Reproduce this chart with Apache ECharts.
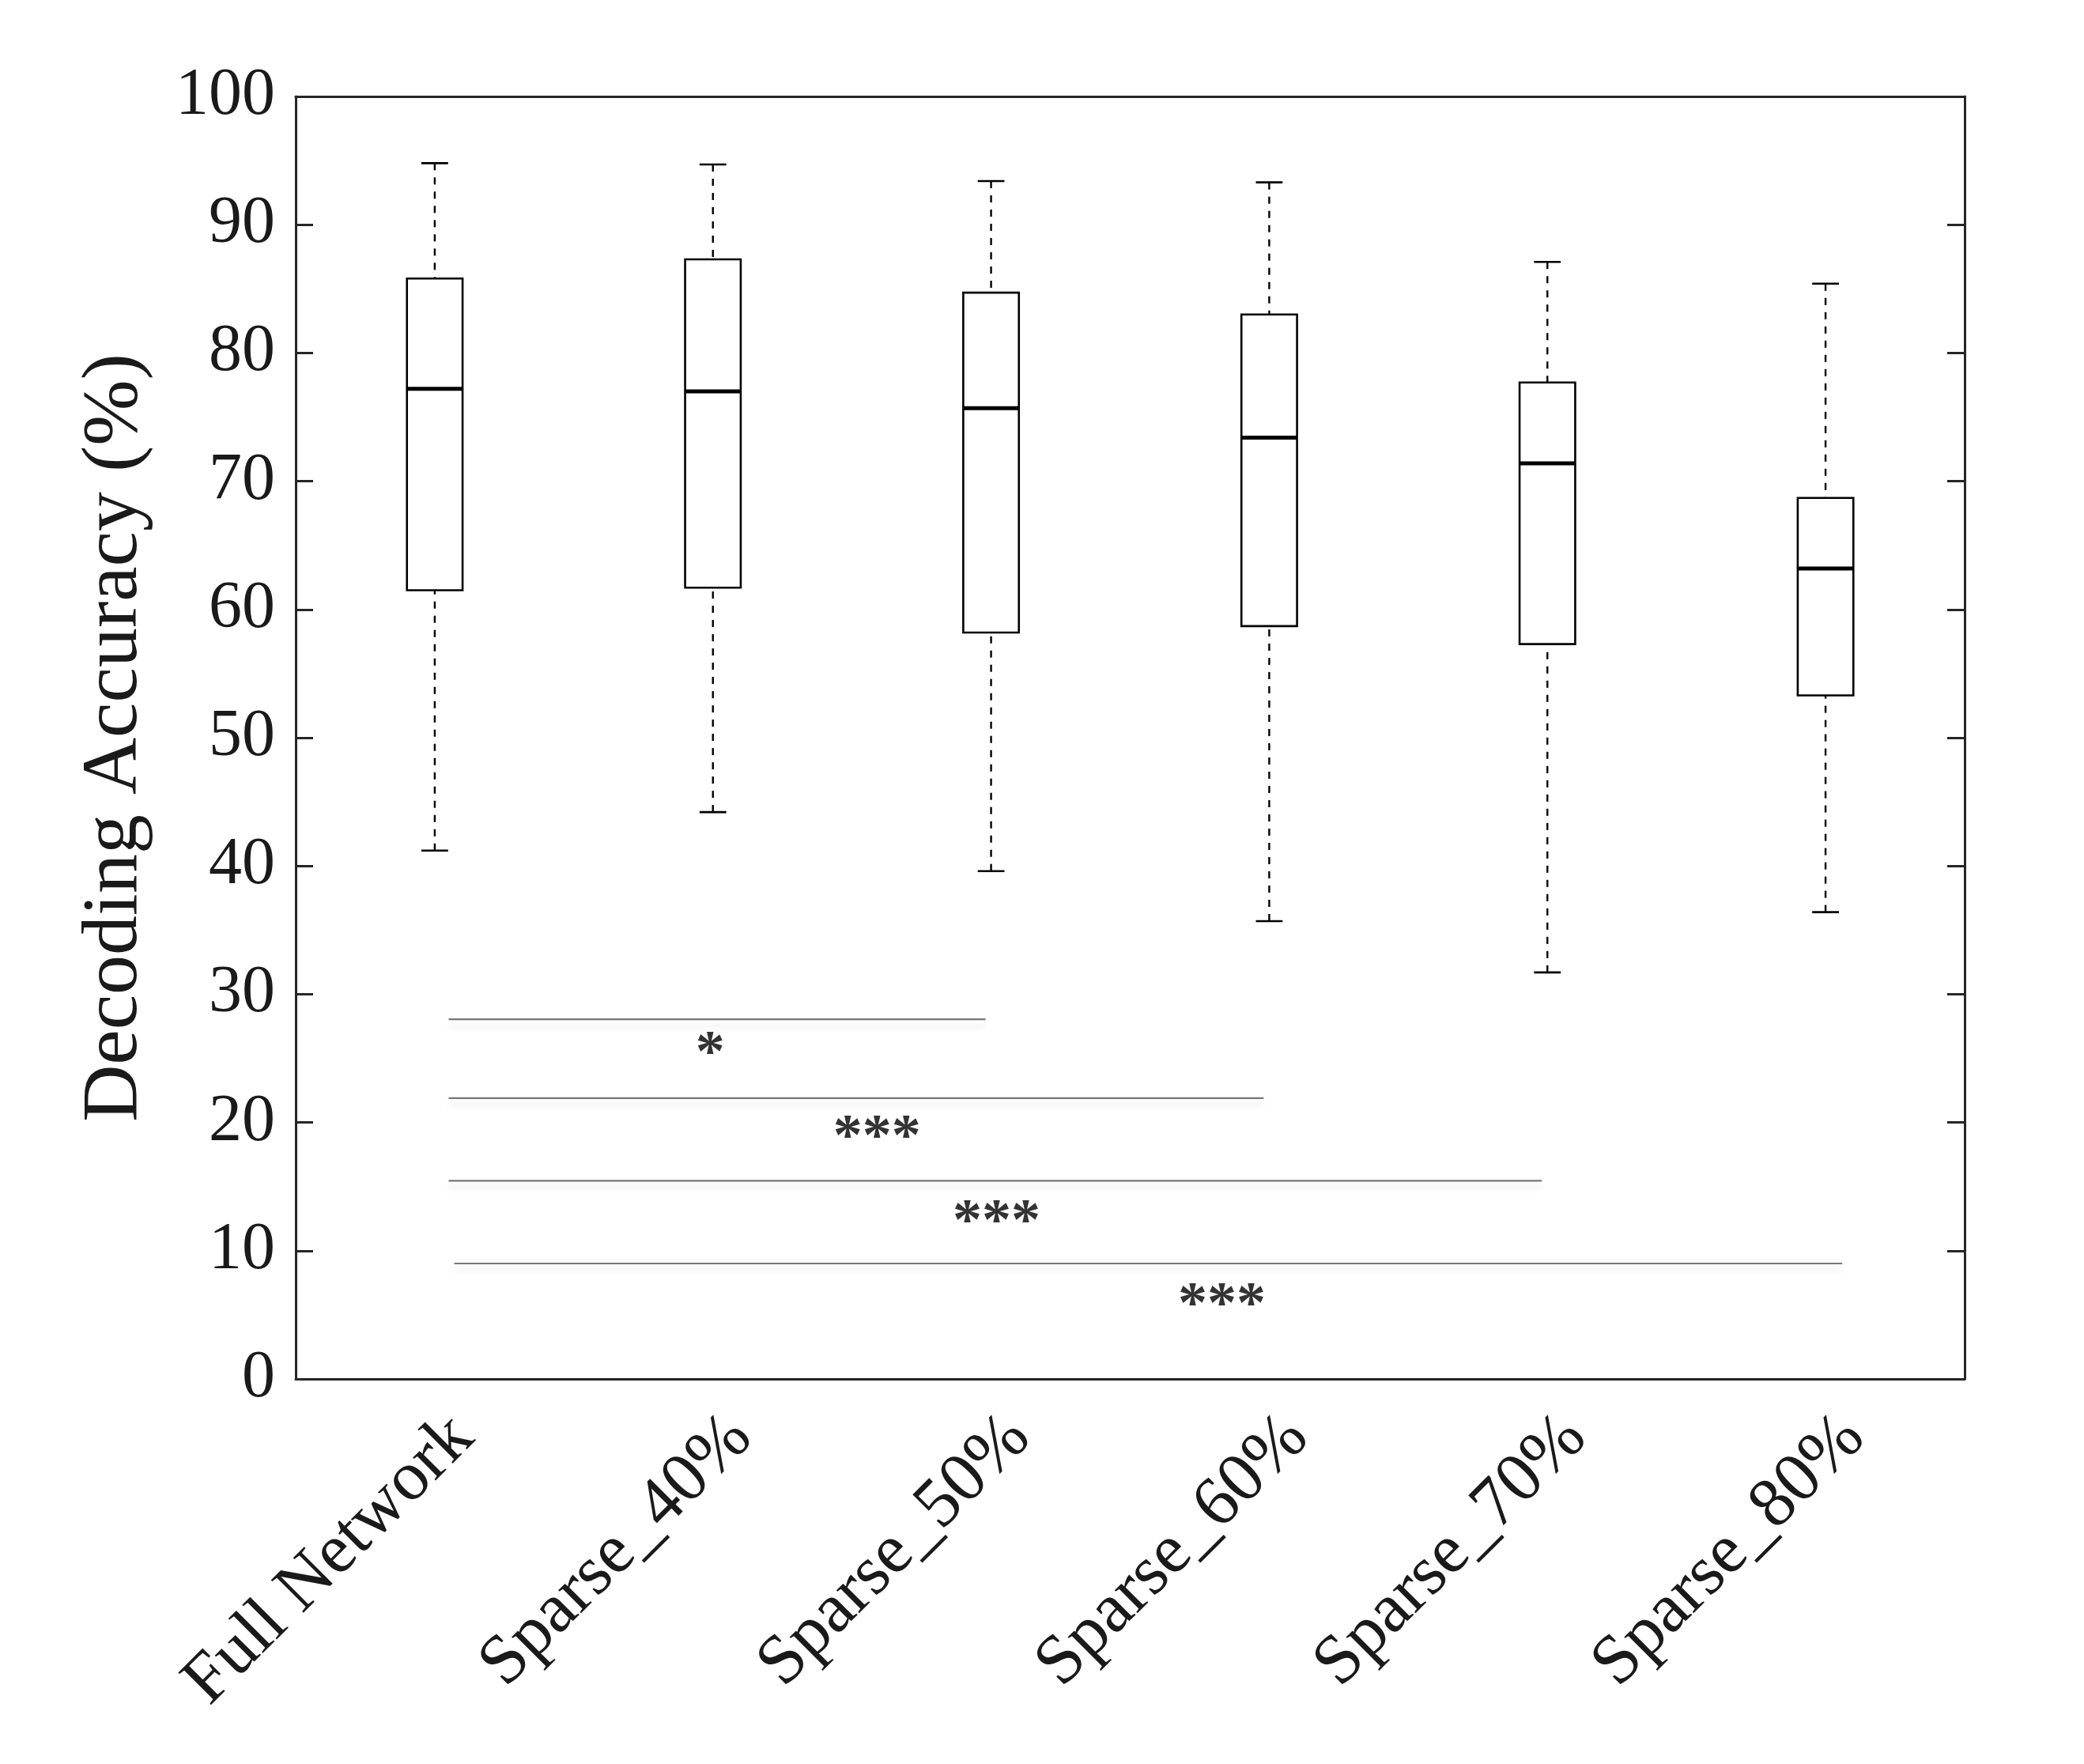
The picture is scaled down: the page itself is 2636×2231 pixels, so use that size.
<!DOCTYPE html>
<html>
<head>
<meta charset="utf-8">
<script src="https://cdn.jsdelivr.net/npm/echarts@6/dist/echarts.min.js"></script>
<style>
  html, body { margin: 0; padding: 0; background: #fff; }
  #chart { width: 2636px; height: 2231px; }
</style>
</head>
<body>
<div id="chart"></div>
<script>
// box stats
const categories = ['Full Network', 'Sparse_40%', 'Sparse_50%', 'Sparse_60%', 'Sparse_70%', 'Sparse_80%'];
const whiskerLow  = [41.2, 44.2, 39.6, 35.7, 31.7, 36.4];
const q1          = [61.5, 61.7, 58.2, 58.7, 57.3, 53.3];
const median      = [77.2, 77.0, 75.7, 73.4, 71.4, 63.2];
const q3          = [85.8, 87.3, 84.7, 83.0, 77.7, 68.7];
const whiskerHigh = [94.8, 94.7, 93.4, 93.3, 87.1, 85.4];

// significance brackets, x in category index units: [xStart, xEnd, y]
const sigLines = [[0.05, 1.98, 28.05], [0.05, 2.98, 21.9], [0.05, 3.98, 15.45], [0.07, 5.06, 9.0]];
// significance marks: [x, y, text]
const sigMarks = [[0.99, 26.2, '*'], [1.59, 19.65, '***'], [2.02, 13.1, '***'], [2.83, 6.6, '***']];

const yMin = 0, yMax = 100, yStep = 10;

const font = 'Liberation Serif';
const axisColor = '#262626';
const textColor = '#1a1a1a';

function renderBox(params, api) {
  const i = api.value(0);
  const pLow = api.coord([i, api.value(1)]);
  const pQ1 = api.coord([i, api.value(2)]);
  const pMed = api.coord([i, api.value(3)]);
  const pQ3 = api.coord([i, api.value(4)]);
  const pHigh = api.coord([i, api.value(5)]);
  const bw = api.size([1, 0])[0] * 0.2;
  const cw = bw * 0.48;
  const x = pMed[0];
  const dash = { stroke: '#000', lineWidth: 2.4, lineDash: [9, 9], fill: null };
  const solid = { stroke: '#000', lineWidth: 2.6, fill: null };
  return {
    type: 'group',
    children: [
      { type: 'line', shape: { x1: x, y1: pHigh[1], x2: x, y2: pQ3[1] }, style: dash },
      { type: 'line', shape: { x1: x, y1: pLow[1], x2: x, y2: pQ1[1] }, style: dash },
      { type: 'line', shape: { x1: x - cw / 2, y1: pHigh[1], x2: x + cw / 2, y2: pHigh[1] }, style: solid },
      { type: 'line', shape: { x1: x - cw / 2, y1: pLow[1], x2: x + cw / 2, y2: pLow[1] }, style: solid },
      { type: 'rect', shape: { x: x - bw / 2, y: pQ3[1], width: bw, height: pQ1[1] - pQ3[1] },
        style: { fill: '#fff', stroke: '#000', lineWidth: 2.6 } },
      { type: 'line', shape: { x1: x - bw / 2, y1: pMed[1], x2: x + bw / 2, y2: pMed[1] },
        style: { stroke: '#000', lineWidth: 5 } }
    ]
  };
}

const boxData = categories.map((c, i) => [i, whiskerLow[i], q1[i], median[i], q3[i], whiskerHigh[i]]);

const lineSeries = sigLines.map(l => ({
  type: 'line',
  xAxisIndex: 2,
  yAxisIndex: 0,
  data: [[l[0], l[2]], [l[1], l[2]]],
  symbol: 'none',
  silent: true,
  lineStyle: {
    color: '#777', width: 2.2,
    shadowColor: 'rgba(0,0,0,0.12)', shadowBlur: 8, shadowOffsetY: 8
  },
  z: 3
}));

const chart = echarts.init(document.getElementById('chart'));
chart.setOption({
  animation: false,
  backgroundColor: '#fff',
  grid: { left: 374, right: 151, top: 122, bottom: 487 },
  xAxis: [
    {
      type: 'category', data: categories, position: 'bottom', boundaryGap: true,
      axisLine: { onZero: false, lineStyle: { color: axisColor, width: 3 } },
      axisTick: { inside: true, length: 22, alignWithLabel: true, lineStyle: { color: axisColor, width: 3 } },
      axisLabel: {
        interval: 0, rotate: 45, margin: 8, fontSize: 89, fontFamily: font, color: textColor,
        verticalAlign: 'top', padding: [18, 12, 0, 0]
      },
      splitLine: { show: false }
    },
    {
      type: 'category', data: categories, position: 'top', boundaryGap: true,
      axisLine: { onZero: false, lineStyle: { color: axisColor, width: 3 } },
      axisTick: { inside: true, length: 22, alignWithLabel: true, lineStyle: { color: axisColor, width: 3 } },
      axisLabel: { show: false },
      splitLine: { show: false }
    },
    { type: 'value', min: -0.5, max: 5.5, show: false, axisLine: { onZero: false } }
  ],
  yAxis: [
    {
      type: 'value', min: yMin, max: yMax, interval: yStep, position: 'left',
      name: 'Decoding Accuracy (%)', nameLocation: 'middle', nameGap: 178, nameRotate: 90,
      nameTextStyle: { fontSize: 100, fontFamily: font, color: textColor },
      axisLine: { show: true, onZero: false, lineStyle: { color: axisColor, width: 3 } },
      axisTick: { show: true, inside: true, length: 22, lineStyle: { color: axisColor, width: 3 } },
      axisLabel: { margin: 26, fontSize: 84, fontFamily: font, color: textColor },
      splitLine: { show: false }
    },
    {
      type: 'value', min: yMin, max: yMax, interval: yStep, position: 'right',
      axisLine: { show: true, onZero: false, lineStyle: { color: axisColor, width: 3 } },
      axisTick: { show: true, inside: true, length: 22, lineStyle: { color: axisColor, width: 3 } },
      axisLabel: { show: false },
      splitLine: { show: false }
    }
  ],
  series: [
    {
      type: 'custom',
      xAxisIndex: 0,
      yAxisIndex: 0,
      renderItem: renderBox,
      encode: { x: 0, y: [1, 2, 3, 4, 5] },
      data: boxData,
      z: 5
    },
    ...lineSeries,
    {
      type: 'scatter',
      xAxisIndex: 2,
      yAxisIndex: 0,
      symbolSize: 1,
      itemStyle: { color: 'rgba(0,0,0,0)' },
      data: sigMarks.map(m => ({ value: [m[0], m[1]], name: m[2] })),
      label: {
        show: true, position: 'inside', formatter: '{b}', offset: [0, 16],
        fontSize: 74, fontWeight: 'bold', fontFamily: font, color: '#000'
      },
      silent: true,
      z: 6
    }
  ]
});
</script>
</body>
</html>
